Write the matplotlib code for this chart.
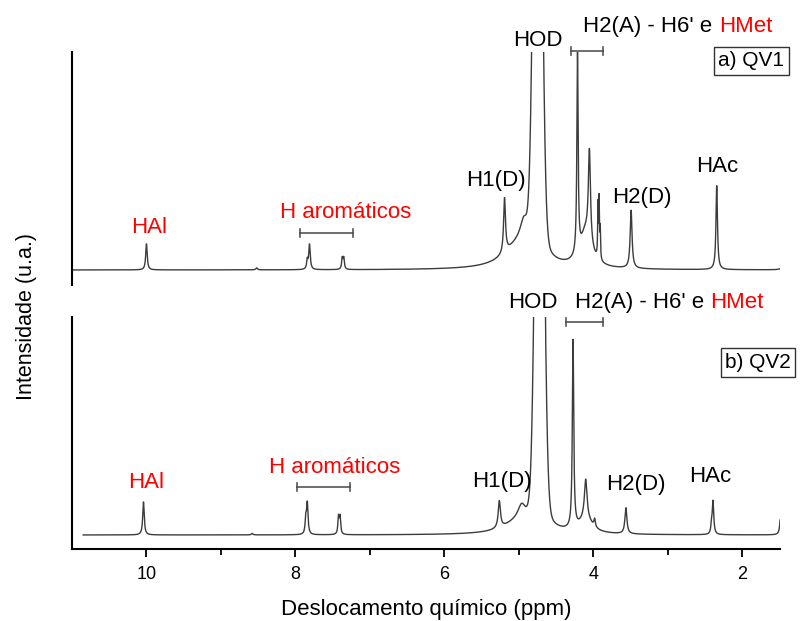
import numpy as np
import matplotlib
matplotlib.use("Agg")
import matplotlib.pyplot as plt

plt.rcParams['font.family'] = ['Liberation Sans', 'DejaVu Sans']

# chemical shift grids (ppm) for each spectrum
ppm1 = np.linspace(10.98, 1.49, 8000)
ppm2 = np.linspace(10.85, 1.49, 8000)

# QV1 peak list: position (ppm), amplitude, half-width
qv1_pos = [10.00, 8.52, 7.84, 7.81, 7.37, 7.35, 5.19, 5.00, 4.93, 4.745,
           4.21, 4.10, 4.05, 3.935, 3.92, 3.905, 3.49, 2.34, 1.45]
qv1_amp = [26, 2, 9, 25, 11, 11, 55, 22, 22, 45,
           200, 34, 92, 52, 58, 30, 58, 84, 3]
qv1_wid = [0.012, 0.012, 0.01, 0.012, 0.01, 0.01, 0.015, 0.25, 0.06, 0.1,
           0.01, 0.09, 0.017, 0.005, 0.005, 0.005, 0.015, 0.012, 0.03]

# QV2 peak list
qv2_pos = [10.04, 8.58, 7.86, 7.84, 7.42, 7.40, 5.26, 5.00, 4.96, 4.72,
           4.27, 4.10, 4.10, 3.98, 3.56, 2.41, 2.39, 1.48]
qv2_amp = [33, 1.5, 14, 31, 17, 17, 27, 11, 14, 45,
           188, 15, 38, 8, 26, 8, 33, 25]
qv2_wid = [0.012, 0.012, 0.01, 0.012, 0.01, 0.01, 0.018, 0.25, 0.06, 0.1,
           0.011, 0.1, 0.02, 0.012, 0.016, 0.01, 0.012, 0.012]

# water (HOD) core, far off scale: centre, amplitude, sigma
hod_qv1 = (4.745, 650, 0.05)
hod_qv2 = (4.72, 650, 0.05)


def spectrum(ppm, pos, amp, wid, hod):
    y = np.zeros_like(ppm)
    for p, a, w in zip(pos, amp, wid):
        y += a * w ** 2 / ((ppm - p) ** 2 + w ** 2)
    c, a, s = hod
    y += a * np.exp(-0.5 * ((ppm - c) / s) ** 2)
    return y


y1 = spectrum(ppm1, qv1_pos, qv1_amp, qv1_wid, hod_qv1)
y2 = spectrum(ppm2, qv2_pos, qv2_amp, qv2_wid, hod_qv2)

fig = plt.figure(figsize=(8, 6.21), dpi=100)
ax1 = fig.add_axes([72 / 800, 1 - 285 / 621, 708 / 800, 233 / 621])
ax2 = fig.add_axes([72 / 800, 1 - 549 / 621, 708 / 800, 232 / 621])

line_kw = dict(color='#3c3c3c', lw=1.0)
ax1.plot(ppm1, y1, **line_kw)
ax2.plot(ppm2, y2, **line_kw)

for ax in (ax1, ax2):
    ax.set_xlim(11.0, 1.49)
    ax.set_ylim(-15, 218)
    ax.set_yticks([])
    for s in ('top', 'right'):
        ax.spines[s].set_visible(False)
    ax.spines['left'].set_linewidth(1.5)

ax1.spines['bottom'].set_visible(False)
ax1.set_xticks([])
ax2.set_ylim(-14, 218)
ax2.spines['bottom'].set_linewidth(1.5)
ax2.set_xticks([10, 8, 6, 4, 2])
ax2.set_xticks([9, 7, 5, 3], minor=True)
ax2.tick_params(axis='x', which='major', direction='out', length=6, width=1.3,
                labelsize=13, pad=6)
ax2.tick_params(axis='x', which='minor', direction='out', length=4, width=1.3)

fs = 16
red = '#ff0000'


def bracket(ax, x0, x1, y, h=4):
    ax.plot([x0, x0, np.nan, x0, x1, np.nan, x1, x1],
            [y - h, y + h, np.nan, y, y, np.nan, y - h, y + h],
            color='#555555', lw=1.2, clip_on=False)


def labels(ax, hal, arom, h1, hod, h2a, h2d, hac):
    ax.text(*hal, 'HAl', color=red, fontsize=fs, ha='center', va='baseline')
    ax.text(*arom, 'H aromáticos', color=red, fontsize=fs, ha='center', va='baseline')
    ax.text(*h1, 'H1(D)', fontsize=fs, ha='center', va='baseline')
    ax.text(*hod, 'HOD', fontsize=fs, ha='center', va='baseline')
    t = ax.text(*h2a, "H2(A) - H6' e", fontsize=fs, ha='left', va='baseline')
    ax.annotate('HMet', xy=(1, 0), xycoords=t, xytext=(4.5, 0),
                textcoords='offset points', color=red, fontsize=fs,
                ha='left', va='bottom')
    ax.text(*h2d, 'H2(D)', fontsize=fs, ha='center', va='baseline')
    ax.text(*hac, 'HAc', fontsize=fs, ha='center', va='baseline')


labels(ax1, (9.97, 37), (7.33, 52), (5.30, 84), (4.74, 224), (4.13, 238),
       (3.35, 67), (2.33, 98))
bracket(ax1, 7.94, 7.23, 37)
bracket(ax1, 4.30, 3.87, 219)

labels(ax2, (10.0, 47), (7.47, 62), (5.23, 48), (4.81, 227), (4.25, 227),
       (3.43, 45), (2.43, 53))
bracket(ax2, 7.98, 7.27, 48)
bracket(ax2, 4.37, 3.87, 213)

box = dict(boxstyle='square,pad=0.22', fc='white', ec='#333333', lw=1.0)
fig.text(751.5 / 800, 1 - 61 / 621, 'a) QV1', fontsize=15, ha='center',
         va='center', bbox=box)
fig.text(758 / 800, 1 - 362.5 / 621, 'b) QV2', fontsize=15, ha='center',
         va='center', bbox=box)

fig.text(27 / 800, 1 - 316 / 621, 'Intensidade (u.a.)', fontsize=15.5,
         rotation=90, ha='center', va='center')
fig.text(426 / 800, 1 - 609 / 621, 'Deslocamento químico (ppm)', fontsize=16,
         ha='center', va='center')

fig.savefig('out.png', dpi=100)
